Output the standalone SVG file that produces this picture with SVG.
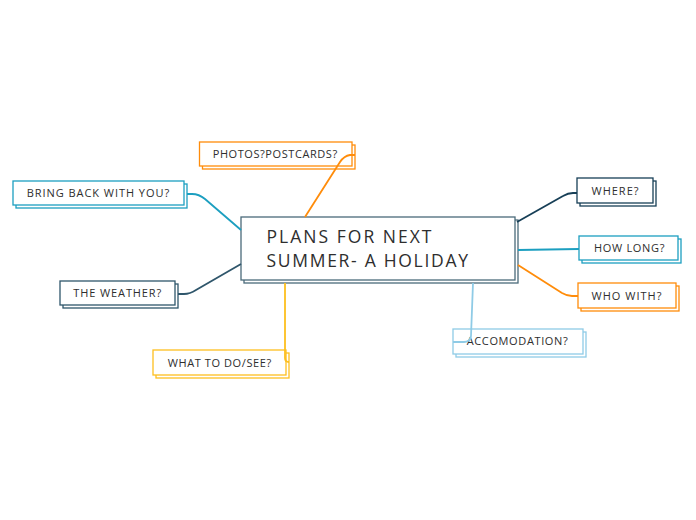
<svg xmlns="http://www.w3.org/2000/svg" width="696" height="520" viewBox="0 0 696 520">
<style>
.bx{fill:#fff;stroke-width:1.3}
.lbl{font-family:"Open Sans","Liberation Sans",sans-serif;font-size:11px;fill:#2e2e2e;letter-spacing:0.5px}
.main{font-family:"Open Sans","Liberation Sans",sans-serif;font-size:17.5px;fill:#2e2e2e}
.c{fill:none;stroke-width:1.8}
.navy{stroke:#173f57}.teal{stroke:#1c9fc0}.orange{stroke:#ff8c0a}.yellow{stroke:#fdbf1f}.light{stroke:#8fcbe6}.slate{stroke:#2f566b}
</style>
<rect width="696" height="520" fill="#fff"/>
<g id="central">
<rect x="244" y="220" width="274" height="63" class="bx" stroke="#4b6a7a" stroke-width="2"/>
<rect x="241" y="217" width="274" height="63" class="bx" stroke="#4b6a7a" stroke-width="2"/>
<text class="main" x="266.5" y="243.3" textLength="165" lengthAdjust="spacing">PLANS FOR NEXT</text>
<text class="main" x="266.5" y="266.7" textLength="201.5" lengthAdjust="spacing">SUMMER- A HOLIDAY</text>
</g>
<g id="photos">
<rect x="202.5" y="145" width="152.5" height="24" class="bx orange"/>
<rect x="199.5" y="142" width="152.5" height="24" class="bx orange"/>
<text class="lbl" x="212.7" y="157.5" textLength="125" lengthAdjust="spacing">PHOTOS?POSTCARDS?</text>
</g>
<g id="bringback">
<rect x="16" y="184" width="171" height="24" class="bx teal"/>
<rect x="13" y="181" width="171" height="24" class="bx teal"/>
<text class="lbl" x="26.7" y="197" textLength="143" lengthAdjust="spacing">BRING BACK WITH YOU?</text>
</g>
<g id="where">
<rect x="580" y="181" width="76" height="25" class="bx navy"/>
<rect x="577" y="178" width="76" height="25" class="bx navy"/>
<text class="lbl" x="591.5" y="195" textLength="47.5" lengthAdjust="spacing">WHERE?</text>
</g>
<g id="howlong">
<rect x="582" y="239" width="99" height="24" class="bx teal"/>
<rect x="579" y="236" width="99" height="24" class="bx teal"/>
<text class="lbl" x="594" y="252" textLength="71" lengthAdjust="spacing">HOW LONG?</text>
</g>
<g id="whowith">
<rect x="581" y="286" width="98" height="25" class="bx orange"/>
<rect x="578" y="283" width="98" height="25" class="bx orange"/>
<text class="lbl" x="591.5" y="300" textLength="70.5" lengthAdjust="spacing">WHO WITH?</text>
</g>
<g id="weather">
<rect x="63" y="284" width="115" height="24" class="bx slate"/>
<rect x="60" y="281" width="115" height="24" class="bx slate"/>
<text class="lbl" x="73.3" y="297" textLength="88.5" lengthAdjust="spacing">THE WEATHER?</text>
</g>
<g id="whattodo">
<rect x="156" y="353" width="133" height="25" class="bx yellow"/>
<rect x="153" y="350" width="133" height="25" class="bx yellow"/>
<text class="lbl" x="167.7" y="367" textLength="104" lengthAdjust="spacing">WHAT TO DO/SEE?</text>
</g>
<g id="accomodation">
<rect x="456" y="332" width="130" height="25" class="bx light"/>
<rect x="453" y="329" width="130" height="25" class="bx light"/>
<text class="lbl" x="466.7" y="344.5" textLength="101.5" lengthAdjust="spacing">ACCOMODATION?</text>
</g>
<g id="connectors">
<path class="c orange" d="M305,217 L340,162 Q344,156 350,155 L355,155"/>
<path class="c teal" d="M241,230 L205,199 Q199,194 192,194 L187,194"/>
<path class="c navy" d="M517,222 L563,196 Q568,193 573,193 L577,193"/>
<path class="c teal" d="M518,250 L579,249"/>
<path class="c orange" d="M518,265 L562,293 Q567,296 572,296 L578,296"/>
<path class="c slate" d="M241,264 L196,290 Q190,294 184,294 L178,294"/>
<path class="c yellow" d="M285,283 L285,358 Q285,362 289,362"/>
<path class="c light" d="M473,283 L471,336 Q470,342 464,342 L453,342"/>
</g>
</svg>
